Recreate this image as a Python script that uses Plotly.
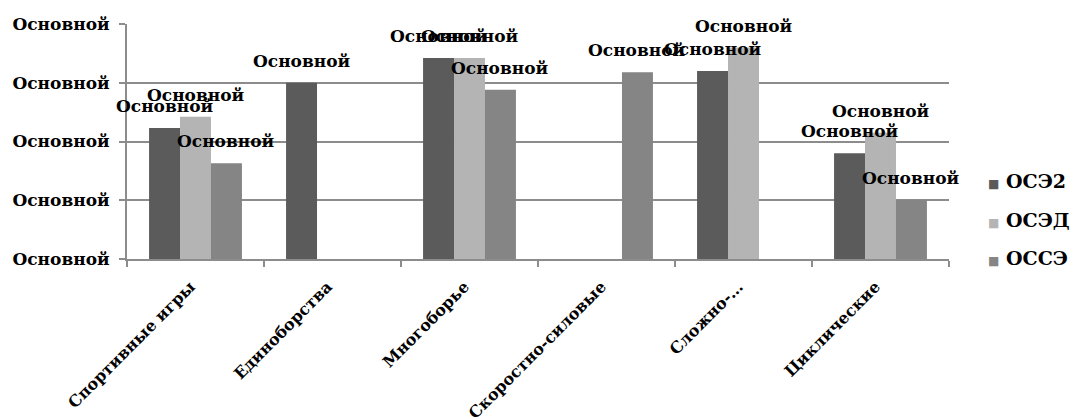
import plotly.graph_objects as go

# Categories (sport groups) and series
categories = ["Спортивные игры", "Единоборства", "Многоборье",
              "Скоростно-силовые", "Сложно-…", "Циклические"]
series_names = ["ОСЭ2", "ОСЭД", "ОССЭ"]

ose2 = [2.23, 3.0, 3.42, None, 3.2, 1.8]
osed = [2.42, None, 3.42, None, 3.6, 2.15]
osse = [1.63, None, 2.88, 3.18, None, 1.0]

y_tick_values = [0, 1, 2, 3, 4]
y_tick_labels = ["Основной"] * 5
data_label = "Основной"

series_values = [ose2, osed, osse]
colors = ["#5b5b5b", "#b4b4b4", "#858585"]

FONT = "DejaVu Serif"
GRID = "#8c8c8c"
BARGAP = 0.322

fig = go.Figure()
for name, vals, col in zip(series_names, series_values, colors):
    fig.add_trace(go.Bar(
        name=name, x=categories, y=vals,
        marker=dict(color=col, line=dict(width=0)),
        showlegend=False,
    ))

# Data labels above each bar
bar_w = (1 - BARGAP) / len(series_names)
annotations = []
for s, vals in enumerate(series_values):
    off = (s - (len(series_names) - 1) / 2) * bar_w
    for i, v in enumerate(vals):
        if v is None:
            continue
        annotations.append(dict(
            x=i + off, y=v, xref="x", yref="y",
            text=data_label, showarrow=False,
            xanchor="center", yanchor="middle", yshift=22,
            font=dict(family=FONT, size=17, color="black", weight="bold"),
        ))

# Legend entries on the right
legend_y = [0.332, 0.166, 0.004]
for name, col, ly in zip(series_names, colors, legend_y):
    annotations.append(dict(
        x=1.0445, y=ly, xref="paper", yref="paper",
        text=f'<span style="color:{col};font-size:12px">■</span> {name}',
        showarrow=False, xanchor="left", yanchor="middle",
        font=dict(family=FONT, size=19, color="black", weight="bold"),
    ))

fig.update_layout(
    width=1086, height=419,
    margin=dict(l=127, r=137, t=24, b=160),
    paper_bgcolor="white", plot_bgcolor="white",
    barmode="group", bargap=BARGAP, bargroupgap=0,
    annotations=annotations,
    showlegend=False,
)

fig.update_xaxes(
    type="category", tickangle=-45, automargin=False,
    range=[-0.5, len(categories) - 0.5],
    tickfont=dict(family=FONT, size=16, color="black", weight="bold"),
    showline=True, linecolor=GRID, linewidth=2,
    ticks="outside", tickson="boundaries", ticklen=6,
    tickcolor=GRID, tickwidth=2, showgrid=False,
    ticklabelstandoff=10, ticklabelshift=-5,
)
fig.update_yaxes(
    range=[0, 4], tickvals=y_tick_values, ticktext=y_tick_labels,
    automargin=False,
    tickfont=dict(family=FONT, size=17, color="black", weight="bold"),
    showline=True, linecolor=GRID, linewidth=2,
    ticks="outside", ticklen=6, tickcolor=GRID, tickwidth=2,
    ticklabelstandoff=6,
    showgrid=True, gridcolor=GRID, gridwidth=2, zeroline=False,
)

fig.write_html("out.html")
